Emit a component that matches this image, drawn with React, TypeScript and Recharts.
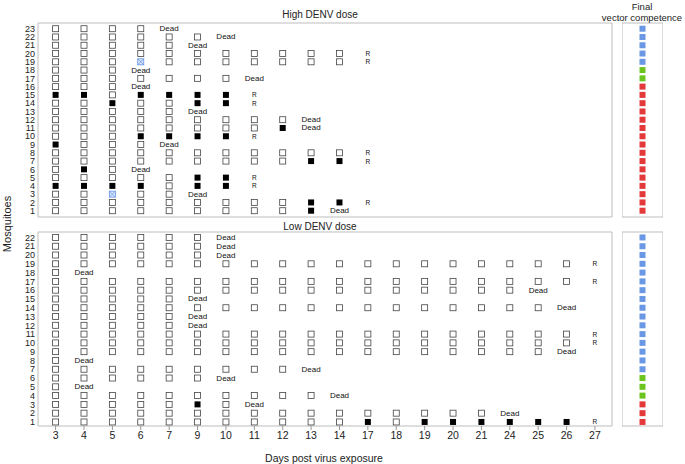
import React from 'react';
import { ScatterChart, Scatter, XAxis, YAxis, ReferenceArea } from 'recharts';

// Days post virus exposure (categories of the x axis)
const DAYS = [3, 4, 5, 6, 7, 9, 10, 11, 12, 13, 14, 17, 18, 19, 20, 21, 24, 25, 26, 27];

// Status per mosquito (index 0 = mosquito 1), one code per day column (spaces are ignored):
// o = negative sample, x = positive sample, b = uncertain sample, D = dead, R = end of follow-up
const HIGH_DOSE: string[] = [
  'ooooo oooox D',
  'ooooo oooox xR',
  'oobooD',
  'xxxxoxxR',
  'oooooxxR',
  'oxoD',
  'ooooo oooox xR',
  'ooooo ooooo oR',
  'xoooD',
  'oooxxxxR',
  'ooooo oooxD',
  'ooooo ooooD',
  'oooooD',
  'ooxooxxR',
  'xxoxxxxR',
  'oooD',
  'ooooo ooD',
  'oooD',
  'ooobo ooooo oR',
  'ooooo ooooo oR',
  'oooooD',
  'ooooo oD',
  'ooooD',
];

const LOW_DOSE: string[] = [
  'ooooo ooooo oxoxx xxxxR',
  'ooooo ooooo ooooo oD',
  'ooooo xoD',
  'ooooo ooooo D',
  'oD',
  'ooooo oD',
  'ooooo ooooD',
  'oD',
  'ooooo ooooo ooooo oooD',
  'ooooo ooooo ooooo ooooR',
  'ooooo ooooo ooooo ooooR',
  'oooooD',
  'oooooD',
  'ooooo ooooo ooooo oooD',
  'oooooD',
  'ooooo ooooo ooooo ooD',
  'ooooo ooooo ooooo ooooR',
  'oD',
  'ooooo ooooo ooooo ooooR',
  'ooooo oD',
  'ooooo oD',
  'ooooo oD',
];

// Final vector competence per mosquito (index 0 = mosquito 1): r / g / b
const HIGH_FINAL = 'rrrrr rrrrr rrrrr r gg bbbbb';
const LOW_FINAL = 'rrr ggg bbbbb bbbbb bbbbb b';

const FINAL_COLORS: Record<string, string> = { r: '#e3393a', g: '#6cc51f', b: '#6a98e4' };

const FONT = '"Liberation Sans", Arial, Helvetica, sans-serif';
const X_DOMAIN: [number, number] = [-0.62, 19.6];
const HIGH_Y: [number, number] = [0.24, 23.69];
const LOW_Y: [number, number] = [0.54, 22.62];

const parse = (s: string) => s.replace(/ /g, '').split('');

type Pt = { x: number; y: number; s: string };

const toPoints = (rows: string[]): Pt[] => {
  const pts: Pt[] = [];
  rows.forEach((row, i) => parse(row).forEach((s, j) => pts.push({ x: j, y: i + 1, s })));
  return pts;
};

const toFinal = (codes: string): Pt[] => parse(codes).map((s, i) => ({ x: 1, y: i + 1, s }));

const TEXT_FILL = '#111';

const Marker = (props: any) => {
  const { cx, cy, payload } = props;
  if (cx == null || cy == null || !payload) return null;
  const s = payload.s;
  const h = 3;
  if (s === 'o')
    return <rect x={cx - h} y={cy - h} width={2 * h} height={2 * h} fill="#fff" stroke="#444" strokeWidth={0.8} />;
  if (s === 'x') return <rect x={cx - h} y={cy - h} width={2 * h} height={2 * h} fill="#000" />;
  if (s === 'b')
    return (
      <g>
        <rect x={cx - h} y={cy - h} width={2 * h} height={2 * h} fill="#dbe7fb" stroke="#5f91e6" strokeWidth={0.8} />
        <line x1={cx - h} y1={cy - h} x2={cx + h} y2={cy + h} stroke="#5f91e6" strokeWidth={0.7} />
        <line x1={cx + h} y1={cy - h} x2={cx - h} y2={cy + h} stroke="#5f91e6" strokeWidth={0.7} />
      </g>
    );
  if (s === 'D')
    return (
      <text
        x={cx}
        y={cy}
        textAnchor="middle"
        dominantBaseline="central"
        fontSize={8}
        fontFamily={FONT}
        style={{ fill: TEXT_FILL }}
      >
        Dead
      </text>
    );
  if (s === 'R')
    return (
      <text
        x={cx}
        y={cy}
        textAnchor="middle"
        dominantBaseline="central"
        fontSize={6.5}
        fontFamily={FONT}
        style={{ fill: TEXT_FILL }}
      >
        R
      </text>
    );
  return null;
};

const FinalMarker = (props: any) => {
  const { cx, cy, payload } = props;
  if (cx == null || cy == null || !payload) return null;
  return <rect x={cx - 3} y={cy - 3} width={6} height={6} fill={FINAL_COLORS[payload.s]} />;
};

const BORDER = '#bdbdbd';

function MainPanel({ rows, yDomain, top, height, margin, showX }: any) {
  const ticks = rows.map((_: string, i: number) => i + 1);
  return (
    <div style={{ position: 'absolute', left: 0, top }}>
      <ScatterChart width={620} height={height} margin={margin}>
        <XAxis
          type="number"
          dataKey="x"
          domain={X_DOMAIN}
          allowDataOverflow
          hide={!showX}
          ticks={DAYS.map((_, i) => i)}
          tickFormatter={(v: number) => String(DAYS[v])}
          interval={0}
          axisLine={false}
          tickLine={{ stroke: '#999' }}
          tickSize={4}
          tickMargin={2}
          height={20}
          tick={{ fontSize: 10.5, fill: '#222', fontFamily: FONT }}
        />
        <YAxis
          type="number"
          dataKey="y"
          domain={yDomain}
          allowDataOverflow
          ticks={ticks}
          interval={0}
          axisLine={false}
          tickLine={false}
          tickSize={0}
          tickMargin={3}
          width={28}
          tick={{ fontSize: 9, fill: '#222', fontFamily: FONT }}
        />
        <ReferenceArea
          x1={X_DOMAIN[0]}
          x2={X_DOMAIN[1]}
          y1={yDomain[0]}
          y2={yDomain[1]}
          fill="none"
          fillOpacity={0}
          stroke={BORDER}
          strokeWidth={1}
          ifOverflow="visible"
        />
        <Scatter data={toPoints(rows)} shape={Marker} isAnimationActive={false} />
      </ScatterChart>
    </div>
  );
}

function FinalPanel({ codes, yDomain, top, height, margin }: any) {
  return (
    <div style={{ position: 'absolute', left: 622, top }}>
      <ScatterChart width={41} height={height} margin={margin}>
        <XAxis type="number" dataKey="x" domain={[0, 2]} allowDataOverflow hide />
        <YAxis type="number" dataKey="y" domain={yDomain} allowDataOverflow hide />
        <ReferenceArea
          x1={0}
          x2={2}
          y1={yDomain[0]}
          y2={yDomain[1]}
          fill="none"
          fillOpacity={0}
          stroke={BORDER}
          strokeWidth={1}
          ifOverflow="visible"
        />
        <Scatter data={toFinal(codes)} shape={FinalMarker} isAnimationActive={false} />
      </ScatterChart>
    </div>
  );
}

export default function App() {
  return (
    <div
      style={{
        position: 'absolute',
        left: 0,
        top: 0,
        width: 685,
        height: 464,
        background: '#fff',
        fontFamily: FONT,
        overflow: 'hidden',
      }}
    >
      <MainPanel
        rows={HIGH_DOSE}
        yDomain={HIGH_Y}
        top={0}
        height={220}
        margin={{ top: 23, right: 8, bottom: 3, left: 10 }}
        showX={false}
      />
      <FinalPanel codes={HIGH_FINAL} yDomain={HIGH_Y} top={0} height={220} margin={{ top: 23, right: 0, bottom: 3, left: 0 }} />
      <MainPanel
        rows={LOW_DOSE}
        yDomain={LOW_Y}
        top={222}
        height={242}
        margin={{ top: 10, right: 8, bottom: 18, left: 10 }}
        showX={true}
      />
      <FinalPanel codes={LOW_FINAL} yDomain={LOW_Y} top={222} height={214} margin={{ top: 10, right: 0, bottom: 10, left: 0 }} />
      <svg
        width={685}
        height={464}
        style={{ position: 'absolute', left: 0, top: 0, pointerEvents: 'none' }}
        fontFamily={FONT}
        fill="#222"
      >
        <text x={320} y={14} textAnchor="middle" dominantBaseline="central" fontSize={10}>
          High DENV dose
        </text>
        <text x={320} y={226} textAnchor="middle" dominantBaseline="central" fontSize={10}>
          Low DENV dose
        </text>
        <text x={642} y={6} textAnchor="middle" dominantBaseline="central" fontSize={9.5}>
          Final
        </text>
        <text x={642} y={17} textAnchor="middle" dominantBaseline="central" fontSize={9.5}>
          vector competence
        </text>
        <text x={324} y={458} textAnchor="middle" dominantBaseline="central" fontSize={10.5}>
          Days post virus exposure
        </text>
        <text
          x={7}
          y={224}
          textAnchor="middle"
          dominantBaseline="central"
          fontSize={11}
          transform="rotate(-90 7 224)"
        >
          Mosquitoes
        </text>
      </svg>
    </div>
  );
}
